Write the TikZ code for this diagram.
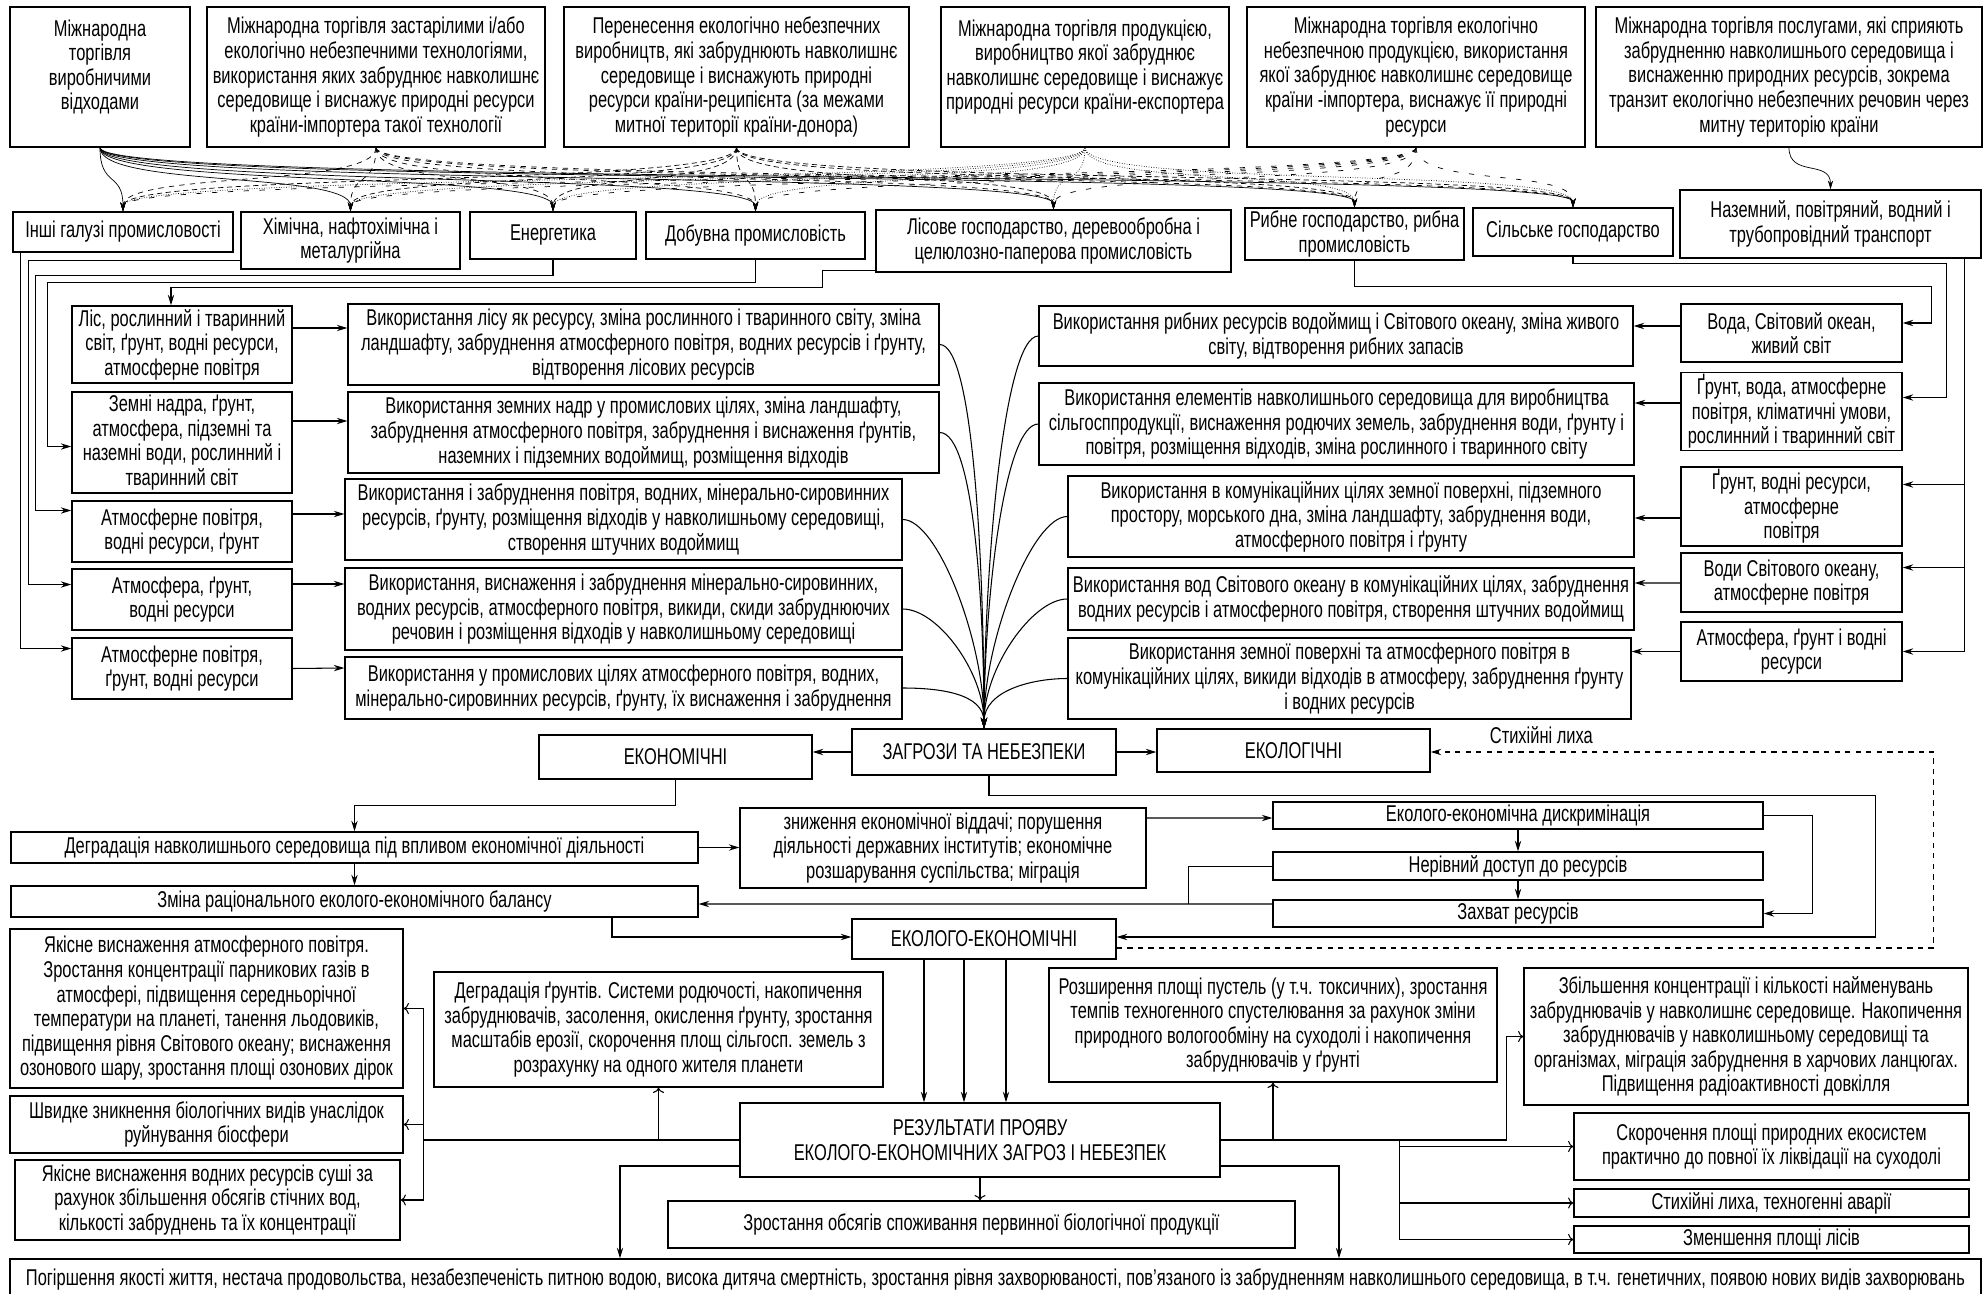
\documentclass[tikz,border=0pt]{standalone}
\usepackage{fontspec}
\setmainfont[FakeStretch=0.72]{Liberation Sans}
\usetikzlibrary{arrows.meta,calc}

\begin{document}
\begin{tikzpicture}[x=0.02cm, y=-0.02cm,
  box/.style={draw, line width=0.8pt, align=center, inner sep=1pt, font=\fontsize{13}{14}\selectfont},
  arr/.style={-{Stealth[length=6pt,width=3.6pt]}, line width=0.6pt},
  tarr/.style={-{To[length=3pt]}, line width=0.6pt},
  fanA/.style={-{Stealth[length=5pt,width=3pt]}, line width=0.4pt},
  fanB/.style={fanA, dashed},
  fanC/.style={fanA, densely dashed},
  fanD/.style={fanA, densely dotted},
  fanE/.style={fanA, loosely dashed}]
\useasboundingbox (0,0) rectangle (1984,1294);

% sources of the threats
\node[box, minimum width=3.6cm, minimum height=2.8cm] (T1) at (100,77) {Міжнародна\\торгівля\\виробничими\\відходами\\\mbox{}};
\node[box, minimum width=6.76cm, minimum height=2.8cm] (T2) at (376,77) {Міжнародна торгівля застарілими і/або\\екологічно небезпечними технологіями,\\використання яких забруднює навколишнє\\середовище і виснажує природні ресурси\\країни-імпортера такої технології};
\node[box, minimum width=6.9cm, minimum height=2.8cm] (T3) at (736.5,77) {Перенесення екологічно небезпечних\\виробництв, які забруднюють навколишнє\\середовище і виснажують природні\\ресурси країни-реципієнта (за межами\\митної території країни-донора)};
\node[box, minimum width=5.76cm, minimum height=2.8cm] (T4) at (1085,77) {Міжнародна торгівля продукцією,\\виробництво якої забруднює\\навколишнє середовище і виснажує\\природні ресурси країни-експортера\\\mbox{}};
\node[box, minimum width=6.76cm, minimum height=2.8cm] (T5) at (1416,77) {Міжнародна торгівля екологічно\\небезпечною продукцією, використання\\якої забруднює навколишнє середовище\\країни -імпортера, виснажує її природні\\ресурси};
\node[box, minimum width=7.72cm, minimum height=2.8cm] (T6) at (1789,77) {Міжнародна торгівля послугами, які сприяють\\забрудненню навколишнього середовища і\\виснаженню природних ресурсів, зокрема\\транзит екологічно небезпечних речовин через\\митну територію країни};

% branches
\node[box, minimum width=4.4cm, minimum height=0.8cm] (I1) at (123,232) {Інші галузі промисловості};
\node[box, minimum width=4.38cm, minimum height=1.14cm] (I2) at (350.5,240.5) {Хімічна, нафтохімічна і\\металургійна};
\node[box, minimum width=3.32cm, minimum height=0.94cm] (I3) at (553,235.5) {Енергетика};
\node[box, minimum width=4.38cm, minimum height=0.94cm] (I4) at (755.5,235.5) {Добувна промисловість};
\node[box, minimum width=7.1cm, minimum height=1.24cm] (I5) at (1053.5,241) {Лісове господарство, деревообробна і\\целюлозно-паперова промисловість};
\node[box, minimum width=4.38cm, minimum height=1.04cm] (I6) at (1354.5,234) {Рибне господарство, рибна\\промисловість};
\node[box, minimum width=4.0cm, minimum height=0.96cm] (I7) at (1573,232) {Сільське господарство};
\node[box, minimum width=6.02cm, minimum height=1.36cm] (I8) at (1830.5,224) {Наземний, повітряний, водний і\\трубопровідний транспорт};

% fan from the sources to the branches
\foreach \s/\st in {T1/fanA, T2/fanB, T3/fanC, T4/fanD, T5/fanE}
  \foreach \t in {I1,I2,I3,I4,I5,I6,I7}
    \draw[\st] (\s.south) .. controls +(0,40) and +(0,-40) .. (\t.north);
\draw[fanA] (T6.south) .. controls +(0,30) and +(0,-30) .. (I8.north);

% resources, left
\node[box, minimum width=4.4cm, minimum height=1.54cm] (L1) at (182,344.5) {Ліс, рослинний і тваринний\\світ, ґрунт, водні ресурси,\\атмосферне повітря};
\node[box, minimum width=4.4cm, minimum height=2.02cm] (L2) at (182,442.5) {Земні надра, ґрунт,\\атмосфера, підземні та\\наземні води, рослинний і\\тваринний світ};
\node[box, minimum width=4.4cm, minimum height=1.22cm] (L3) at (182,531.5) {Атмосферне повітря,\\водні ресурси, ґрунт};
\node[box, minimum width=4.4cm, minimum height=1.22cm] (L4) at (182,599.5) {Атмосфера, ґрунт,\\водні ресурси};
\node[box, minimum width=4.4cm, minimum height=1.22cm] (L5) at (182,668.5) {Атмосферне повітря,\\ґрунт, водні ресурси};

\node[box, minimum width=11.82cm, minimum height=1.62cm] (E1) at (643.5,344.5) {Використання лісу як ресурсу, зміна рослинного і тваринного світу, зміна\\ландшафту, забруднення атмосферного повітря, водних ресурсів і ґрунту,\\відтворення лісових ресурсів};
\node[box, minimum width=11.82cm, minimum height=1.62cm] (E2) at (643.5,432.5) {Використання земних надр у промислових цілях, зміна ландшафту,\\забруднення атмосферного повітря, забруднення і виснаження ґрунтів,\\наземних і підземних водоймищ, розміщення відходів};
\node[box, minimum width=11.14cm, minimum height=1.62cm] (E3) at (623.5,519.5) {Використання і забруднення повітря, водних, мінерально-сировинних\\ресурсів, ґрунту, розміщення відходів у навколишньому середовищі,\\створення штучних водоймищ};
\node[box, minimum width=11.14cm, minimum height=1.64cm] (E4) at (623.5,609) {Використання, виснаження і забруднення мінерально-сировинних,\\водних ресурсів, атмосферного повітря, викиди, скиди забруднюючих\\речовин і розміщення відходів у навколишньому середовищі};
\node[box, minimum width=11.14cm, minimum height=1.24cm] (E5) at (623.5,688) {Використання у промислових цілях атмосферного повітря, водних,\\мінерально-сировинних ресурсів, ґрунту, їх виснаження і забруднення};

% resources, right
\node[box, minimum width=11.88cm, minimum height=1.2cm] (F1) at (1336,336) {Використання рибних ресурсів водоймищ і Світового океану, зміна живого\\світу, відтворення рибних запасів};
\node[box, minimum width=11.9cm, minimum height=1.64cm] (F2) at (1336.5,424) {Використання елементів навколишнього середовища для виробництва\\сільгосппродукції, виснаження родючих земель, забруднення води, ґрунту і\\повітря, розміщення відходів, зміна рослинного і тваринного світу};
\node[box, minimum width=11.32cm, minimum height=1.62cm] (F3) at (1351,516.5) {Використання в комунікаційних цілях земної поверхні, підземного\\простору, морського дна, зміна ландшафту, забруднення води,\\атмосферного повітря і ґрунту};
\node[box, minimum width=11.32cm, minimum height=1.24cm] (F4) at (1351,599) {Використання вод Світового океану в комунікаційних цілях, забруднення\\водних ресурсів і атмосферного повітря, створення штучних водоймищ};
\node[box, minimum width=11.26cm, minimum height=1.62cm] (F5) at (1349.5,678.5) {Використання земної поверхні та атмосферного повітря в\\комунікаційних цілях, викиди відходів в атмосферу, забруднення ґрунту\\і водних ресурсів};

\node[box, minimum width=4.42cm, minimum height=1.16cm] (S1) at (1791.5,333) {Вода, Світовий океан,\\живий світ};
\node[box, minimum width=4.42cm, minimum height=1.54cm] (S2) at (1791.5,411.5) {Ґрунт, вода, атмосферне\\повітря, кліматичні умови,\\рослинний і тваринний світ};
\node[box, minimum width=4.42cm, minimum height=1.58cm] (S3) at (1791.5,506.5) {Ґрунт, водні ресурси,\\атмосферне\\повітря};
\node[box, minimum width=4.42cm, minimum height=1.18cm] (S4) at (1791.5,582.5) {Води Світового океану,\\атмосферне повітря};
\node[box, minimum width=4.42cm, minimum height=1.18cm] (S5) at (1791.5,651.5) {Атмосфера, ґрунт і водні\\ресурси};

% branches to resources
\draw[arr] ($(I1.south west)+(8,0)$) |- ($(L5.west)+(0,-20)$);
\draw[arr] ($(I2.south west)+(0,-9)$) -- ++(-212,0) |- ($(L4.west)+(0,-15)$);
\draw[arr] (I3.south) -- ++(0,16) -| ($(L3.west)+(-36,-21)$) -- ($(L3.west)+(0,-21)$);
\draw[arr] (I4.south) -- ++(0,23) -| ($(L2.west)+(-24,4)$) -- ($(L2.west)+(0,4)$);
\draw[arr] ($(I5.south west)+(0,-2)$) -- ++(-53,0) -- ++(0,17) -| ($(L1.north)+(-11,0)$);
\draw[arr] (I6.south) -- ++(0,26) -| ($(S1.east)+(29,-10)$) -- ($(S1.east)+(0,-10)$);
\draw[arr] (I7.south) -- ++(0,7) -| ($(S2.east)+(44,-14)$) -- ($(S2.east)+(0,-14)$);
\draw[arr] ($(I8.south east)+(-17,0)$) |- ($(S3.east)+(0,-22)$);
\draw[arr] ($(I8.south east)+(-17,0)$) |- ($(S4.east)+(0,-15)$);
\draw[arr] ($(I8.south east)+(-17,0)$) |- (S5.east);

% resources to impacts
\draw[arr] ($(L1.east)+(0,-16.5)$) -- ($(E1.west)+(0,-16.5)$);
\draw[arr] ($(L2.east)+(0,-21.5)$) -- ($(E2.west)+(0,-11.5)$);
\draw[arr] ($(L3.east)+(0,-17.5)$) -- ($(E3.west)+(0,-5.5)$);
\draw[arr] ($(L4.east)+(0,-15.5)$) -- ($(E4.west)+(0,-25)$);
\draw[arr] (L5.east) -- ($(E5.west)+(0,-20)$);
\draw[arr] ($(S1.west)+(0,-7)$) -- ($(F1.east)+(0,-10)$);
\draw[arr] ($(S2.west)+(0,-8.5)$) -- ($(F2.east)+(0,-21)$);
\draw[arr] ($(S3.west)+(0,11.5)$) -- ($(F3.east)+(0,1.5)$);
\draw[arr] ($(S4.west)+(0,0.5)$) -- ($(F4.east)+(0,-16)$);
\draw[arr] (S5.west) -- ($(F5.east)+(0,-27)$);

% threats
\node[box, minimum width=5.28cm, minimum height=0.92cm] (zag) at (984,752) {ЗАГРОЗИ ТА НЕБЕЗПЕКИ};
\node[box, minimum width=5.46cm, minimum height=0.88cm] (econ) at (675.5,757) {ЕКОНОМІЧНІ};
\node[box, minimum width=5.46cm, minimum height=0.86cm] (ecol) at (1293.5,750.5) {ЕКОЛОГІЧНІ};

\foreach \e in {E1,E2,E3,E4,E5}
  \draw[arr] (\e.east) to[out=0, in=90, out max distance=0.7cm] (zag.north);
\foreach \f in {F1,F2,F3,F4,F5}
  \draw[arr] (\f.west) to[out=180, in=90, out max distance=0.7cm] (zag.north);

\node[box, minimum width=13.74cm, minimum height=0.62cm] (D1) at (354.5,847.5) {Деградація навколишнього середовища під впливом економічної діяльності};
\node[box, minimum width=8.12cm, minimum height=1.6cm] (Z) at (943,848) {зниження економічної віддачі; порушення\\діяльності державних інститутів; економічне\\розшарування суспільства; міграція};
\node[box, minimum width=13.74cm, minimum height=0.62cm] (D2) at (354.5,901.5) {Зміна раціонального еколого-економічного балансу};
\node[box, minimum width=9.8cm, minimum height=0.54cm] (G1) at (1518,815.5) {Еколого-економічна дискримінація};
\node[box, minimum width=9.8cm, minimum height=0.56cm] (G2) at (1518,866) {Нерівний доступ до ресурсів};
\node[box, minimum width=9.8cm, minimum height=0.54cm] (G3) at (1518,913.5) {Захват ресурсів};
\node[box, minimum width=5.28cm, minimum height=0.8cm] (EE) at (984,939) {ЕКОЛОГО-ЕКОНОМІЧНІ};

\draw[arr] (zag.west) -- (zag.west -| econ.east);
\draw[arr] (zag.east) -- (zag.east -| ecol.west);
\draw[arr] ($(zag.south)+(5,0)$) -- ++(0,20) -| ($(EE.east)+(759,-2)$) -- ($(EE.east)+(0,-2)$);
\draw[arr] (econ.south) -- ++(0,26) -| (D1.north);
\draw[arr] (D1.south) -- (D2.north);
\draw[arr] (D1.east) -- (D1.east -| Z.west);
\draw[arr] ($(Z.east)+(0,-30)$) -- ($(G1.west)+(0,2.5)$);
\draw[arr] (G1.south) -- (G2.north);
\draw[arr] (G2.south) -- (G3.north);
\draw[arr] (G1.east) -- ++(49,0) |- (G3.east);
\draw[arr] ($(G3.west)+(0,-9.5)$) -- ($(D2.east)+(0,2.5)$);
\draw (G2.west) -| ($(G3.west)+(-84,-9.5)$);
\draw[arr] ($(D2.south)+(257.5,0)$) |- ($(EE.west)+(0,-2)$);
\draw[arr, dashed] ($(EE.east)+(0,9)$) -- ++(817,0) |- ($(ecol.east)+(0,1.5)$)
  node[pos=0.89, above=1pt, font=\fontsize{13}{14}\selectfont] {Стихійні лиха};

% results
\node[box, minimum width=9.6cm, minimum height=1.48cm] (R) at (980,1140) {РЕЗУЛЬТАТИ ПРОЯВУ\\ЕКОЛОГО-ЕКОНОМІЧНИХ ЗАГРОЗ І НЕБЕЗПЕК};
\foreach \dx/\rx in {-60/-56, -20/-16, 22/26}
  \draw[arr] ($(EE.south)+(\dx,0)$) -- ($(R.north)+(\rx,0)$);

\node[box, minimum width=7.86cm, minimum height=3.18cm] (A1) at (206.5,1008.5) {Якісне виснаження атмосферного повітря.\\Зростання концентрації парникових газів в\\атмосфері, підвищення середньорічної\\температури на планеті, танення льодовиків,\\підвищення рівня Світового океану; виснаження\\озонового шару, зростання площі озонових дірок};
\node[box, minimum width=7.86cm, minimum height=1.14cm] (A2) at (206.5,1124.5) {Швидке зникнення біологічних видів унаслідок\\руйнування біосфери};
\node[box, minimum width=7.7cm, minimum height=1.6cm] (A3) at (207.5,1200) {Якісне виснаження водних ресурсів суші за\\рахунок збільшення обсягів стічних вод,\\кількості забруднень та їх концентрації};
\node[box, minimum width=8.98cm, minimum height=2.3cm] (B) at (658.5,1029.5) {Деградація ґрунтів. Системи родючості, накопичення\\забруднювачів, засолення, окислення ґрунту, зростання\\масштабів ерозії, скорочення площ  сільгосп. земель з\\розрахунку на одного жителя планети};
\node[box, minimum width=8.96cm, minimum height=2.28cm] (C) at (1273,1025) {Розширення площі пустель (у т.ч. токсичних), зростання\\темпів техногенного спустелювання за рахунок зміни\\природного вологообміну на суходолі і накопичення\\забруднювачів у ґрунті};
\node[box, minimum width=8.88cm, minimum height=2.74cm] (H) at (1746,1036.5) {Збільшення концентрації і кількості найменувань\\забруднювачів у навколишнє середовище. Накопичення\\забруднювачів у навколишньому середовищі  та\\організмах, міграція забруднення в харчових ланцюгах.\\Підвищення радіоактивності довкілля};
\node[box, minimum width=7.9cm, minimum height=1.34cm] (K1) at (1771.5,1146.5) {Скорочення площі природних екосистем\\практично до повної їх ліквідації на суходолі};
\node[box, minimum width=7.9cm, minimum height=0.56cm] (K2) at (1771.5,1203) {Стихійні лиха, техногенні аварії};
\node[box, minimum width=7.9cm, minimum height=0.54cm] (K3) at (1771.5,1239.5) {Зменшення площі лісів};
\node[box, minimum width=12.54cm, minimum height=0.94cm] (M) at (981.5,1224.5) {Зростання обсягів споживання первинної біологічної продукції};
\node[box, minimum width=39.42cm, minimum height=0.82cm] (P) at (995.5,1279.5) {Погіршення якості життя, нестача продовольства, незабезпеченість питною водою, висока дитяча смертність, зростання рівня захворюваності, пов'язаного із забрудненням навколишнього середовища, в т.ч. генетичних, появою нових видів захворювань};

\draw[tarr] (R.west) -| ($(A1.east)+(20,0)$) -- (A1.east);
\draw[tarr] (R.west) -| ($(A2.east)+(20,0)$) -- (A2.east);
\draw[tarr] (R.west) -| ($(A3.east)+(23,0)$) -- (A3.east);
\draw[tarr] (R.west -| B.south) -- (B.south);
\draw[tarr] (R.east) -| ($(H.west)+(-17,0)$) -- (H.west);
\draw[tarr] (R.east -| C.south) -- (C.south);
\draw[tarr] ($(R.east)+(179,0)$) |- (K1.west);
\draw[tarr] ($(R.east)+(179,0)$) |- (K2.west);
\draw[tarr] ($(R.east)+(179,0)$) |- (K3.west);
\draw[tarr] (R.south) -- (R.south |- M.north);
\draw[arr] ($(R.west)+(0,26)$) -| ($(P.north)+(-375.5,0)$);
\draw[arr] ($(R.east)+(0,26)$) -| ($(P.north)+(343.5,0)$);
\end{tikzpicture}
\end{document}
